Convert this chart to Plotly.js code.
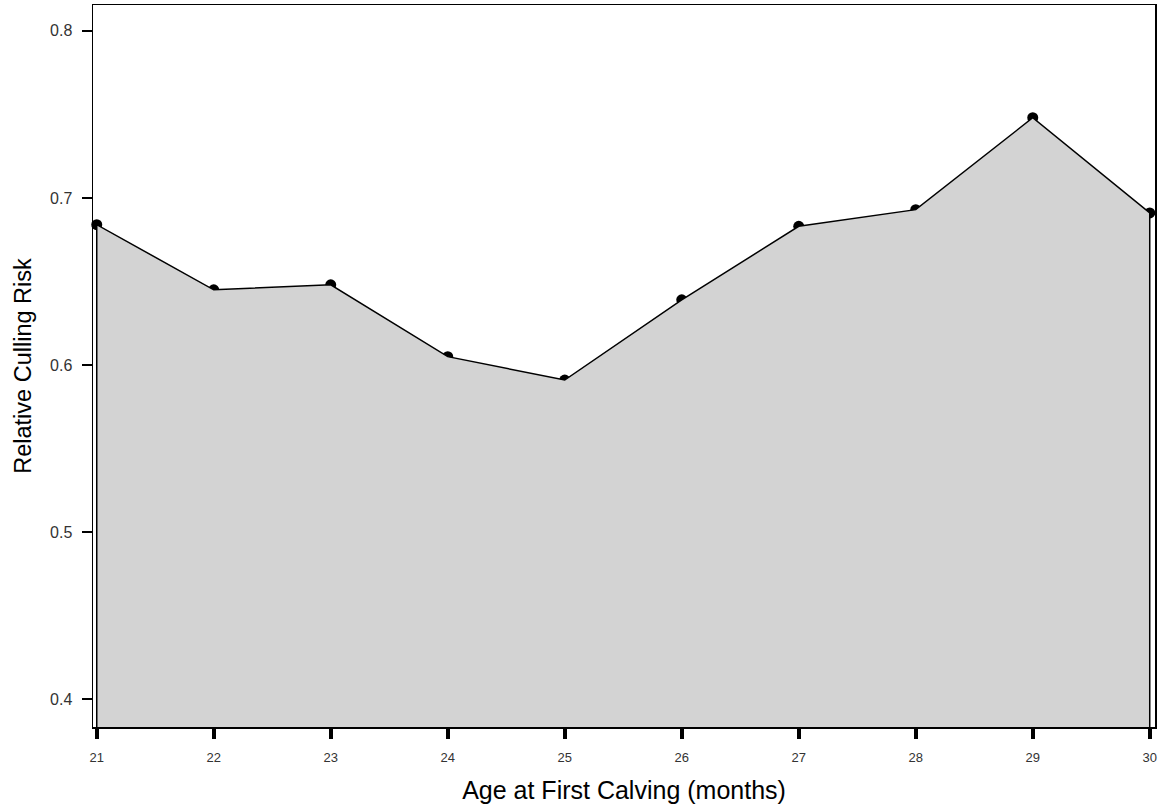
<!DOCTYPE html>
<html>
<head>
<meta charset="utf-8">
<script src="https://cdn.plot.ly/plotly-3.0.1.min.js"></script>
<style>html,body{margin:0;padding:0;background:#fff;}#chart{width:1164px;height:809px;}</style>
</head>
<body>
<div id="chart"></div>
<script>
const ages = [21, 22, 23, 24, 25, 26, 27, 28, 29, 30];
const risk = [0.684, 0.645, 0.648, 0.605, 0.591, 0.639, 0.683, 0.693, 0.748, 0.691];
const yTicks = [0.4, 0.5, 0.6, 0.7, 0.8];
const yTickLabels = ['0.4', '0.5', '0.6', '0.7', '0.8'];

const yMin = 0.3833, yMax = 0.8155;

const polyX = [ages[0]].concat(ages, [ages[ages.length - 1]]);
const polyY = [yMin].concat(risk, [yMin]);

const traces = [
  {
    x: ages, y: risk, type: 'scatter', mode: 'markers',
    marker: {color: '#000', size: 11}, hoverinfo: 'skip', cliponaxis: false
  },
  {
    x: polyX, y: polyY, type: 'scatter', mode: 'lines',
    fill: 'toself', fillcolor: '#d3d3d3',
    line: {color: '#000', width: 1.5}, hoverinfo: 'skip'
  }
];

const layout = {
  width: 1164, height: 809,
  margin: {l: 93, r: 9, t: 5, b: 82},
  paper_bgcolor: '#fff', plot_bgcolor: '#fff',
  showlegend: false,
  font: {family: 'Liberation Sans, Arial, sans-serif', color: '#222'},
  xaxis: {
    range: [20.968, 30.045],
    tickvals: ages, ticktext: ages.map(String),
    ticks: 'outside', ticklen: 10, tickwidth: 4, tickcolor: '#000',
    tickfont: {size: 13, color: '#333'},
    ticklabelstandoff: 8,
    showgrid: false, zeroline: false,
    showline: true, linecolor: '#000', linewidth: 1.5, mirror: true,
    title: {text: 'Age at First Calving (months)', font: {size: 25, color: '#000'}, standoff: 17}
  },
  yaxis: {
    range: [yMin, yMax],
    tickvals: yTicks, ticktext: yTickLabels,
    ticks: 'outside', ticklen: 10, tickwidth: 1.5, tickcolor: '#000',
    tickfont: {size: 16, color: '#333'},
    ticklabelstandoff: 6,
    showgrid: false, zeroline: false,
    showline: true, linecolor: '#000', linewidth: 1.5, mirror: true,
    title: {text: 'Relative Culling Risk', font: {size: 23.5, color: '#000'}, standoff: 12}
  }
};

Plotly.newPlot('chart', traces, layout, {displayModeBar: false, staticPlot: true});
</script>
</body>
</html>
